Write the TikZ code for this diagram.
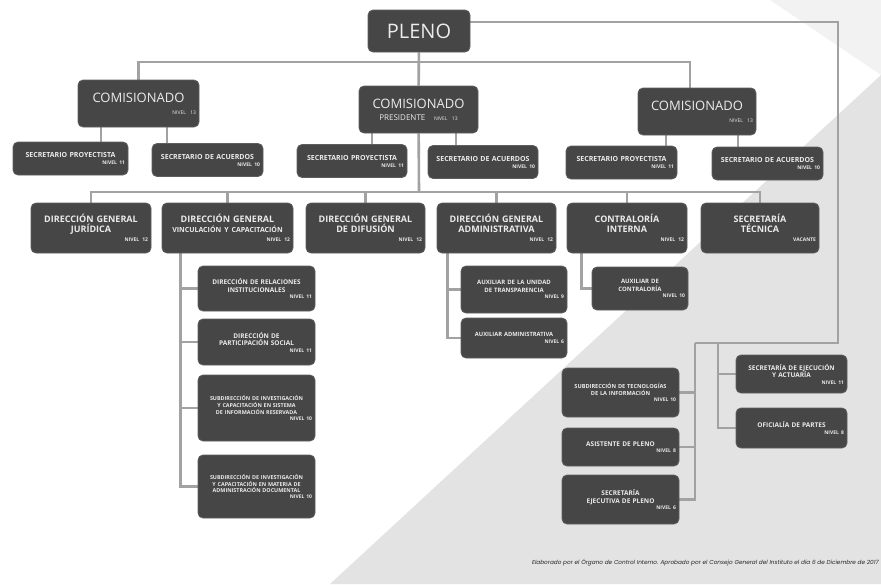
\documentclass[tikz,border=0pt]{standalone}
\usepackage{fontspec}
\usepackage{tikz}
\newfontfamily\cajafont{Open Sans}
\newfontfamily\piefont{Poppins}
\definecolor{Caja}{HTML}{464646}
\definecolor{Borde}{HTML}{5E5E5E}
\definecolor{Linea}{HTML}{A2A2A2}
\pgfdeclarelayer{fondo}
\pgfdeclarelayer{lineas_layer}
\pgfdeclarelayer{esquema}
\pgfsetlayers{fondo,lineas_layer,esquema,main}
\newcommand{\nivel}[1]{\\[-1pt]\mbox{}\hfill{\fontsize{5}{5}\selectfont #1}}
\tikzstyle{none}=[inner sep=0pt]
\tikzstyle{caja}=[fill=Caja,draw=Borde,line width=0.8pt,rounded corners=5pt,text=white!92!black,inner sep=3pt,align=center]
\tikzstyle{pleno}=[caja,minimum width=102pt,minimum height=42pt,font=\cajafont\fontsize{20}{20}\selectfont]
\tikzstyle{comisionado}=[caja,minimum height=47pt,font=\cajafont\fontsize{13}{13}\selectfont]
\tikzstyle{secretario}=[caja,minimum height=33pt,font=\cajafont\bfseries\fontsize{7}{8}\selectfont]
\tikzstyle{direccion}=[caja,minimum height=50pt,font=\cajafont\bfseries\fontsize{9}{10}\selectfont]
\tikzstyle{area}=[caja,font=\cajafont\bfseries\fontsize{6.5}{7.5}\selectfont]
\tikzstyle{pie}=[inner sep=0pt,anchor=east,text=black!85,font=\piefont\itshape\fontsize{5.75}{7}\selectfont]
\tikzstyle{linea}=[draw=Linea,line width=2.6pt]

\begin{document}
\begin{tikzpicture}[x=1pt,y=-1pt]
		\useasboundingbox (0,0) rectangle (881,584);
		\begin{pgfonlayer}{fondo}
			\fill [gray!10] (770,0) -- (881,0) -- (881,75) -- cycle;
			\fill [gray!22] (881,75) -- (881,584) -- (330,584) -- cycle;
		\end{pgfonlayer}
		\begin{pgfonlayer}{esquema}
			\node [style=pleno] (pleno) at (419,31) {PLENO};
			\node [style=comisionado, text width=115pt] (com_izq) at (138.5,103.5) {COMISIONADO\nivel{NIVEL 13}};
			\node [style=comisionado, text width=113pt] (com_pres) at (418.5,109.5) {COMISIONADO\\[-1pt]{\fontsize{8}{8}\selectfont PRESIDENTE}\ \ {\fontsize{5}{5}\selectfont NIVEL 13}};
			\node [style=comisionado, text width=112pt] (com_der) at (697,111.5) {COMISIONADO\nivel{NIVEL 13}};
			\node [style=secretario, text width=109pt] (sp_izq) at (70.5,158.5) {SECRETARIO PROYECTISTA\nivel{NIVEL 11}};
			\node [style=secretario, text width=105pt] (sa_izq) at (207.5,160) {SECRETARIO DE ACUERDOS\nivel{NIVEL 10}};
			\node [style=secretario, text width=104pt] (sp_pres) at (352,161) {SECRETARIO PROYECTISTA\nivel{NIVEL 11}};
			\node [style=secretario, text width=104pt] (sa_pres) at (483,162) {SECRETARIO DE ACUERDOS\nivel{NIVEL 10}};
			\node [style=secretario, text width=105pt] (sp_der) at (621.5,162.5) {SECRETARIO PROYECTISTA\nivel{NIVEL 11}};
			\node [style=secretario, text width=105pt] (sa_der) at (767.5,163.5) {SECRETARIO DE ACUERDOS\nivel{NIVEL 10}};
			\node [style=direccion, text width=114pt] (dg_juridica) at (91,228) {DIRECCIÓN GENERAL\\JURÍDICA\nivel{NIVEL 12}};
			\node [style=direccion, text width=125pt] (dg_vinculacion) at (227.5,228) {DIRECCIÓN GENERAL\\{\fontsize{7}{8}\selectfont VINCULACIÓN Y CAPACITACIÓN}\nivel{NIVEL 12}};
			\node [style=direccion, text width=113pt] (dg_difusion) at (365.5,228) {DIRECCIÓN GENERAL\\DE DIFUSIÓN\nivel{NIVEL 12}};
			\node [style=direccion, text width=113pt] (dg_admin) at (496.5,228) {DIRECCIÓN GENERAL\\ADMINISTRATIVA\nivel{NIVEL 12}};
			\node [style=direccion, text width=114pt] (contraloria) at (627,228) {CONTRALORÍA\\INTERNA\nivel{NIVEL 12}};
			\node [style=direccion, text width=112pt] (sec_tecnica) at (760,228) {SECRETARÍA\\TÉCNICA\nivel{VACANTE}};
			\node [style=area, text width=111pt, minimum height=45pt] (dir_relaciones) at (256.5,288.5) {DIRECCIÓN DE RELACIONES\\INSTITUCIONALES\nivel{NIVEL 11}};
			\node [style=area, text width=111pt, minimum height=46pt] (dir_participacion) at (256.5,342) {DIRECCIÓN DE\\PARTICIPACIÓN SOCIAL\nivel{NIVEL 11}};
			\node [style=area, text width=111pt, minimum height=66pt, font=\cajafont\bfseries\fontsize{5.4}{6.8}\selectfont] (sub_informacion) at (256.5,408) {SUBDIRECCIÓN DE INVESTIGACIÓN\\Y CAPACITACIÓN EN SISTEMA\\DE INFORMACIÓN RESERVADA\nivel{NIVEL 10}};
			\node [style=area, text width=111pt, minimum height=63pt, font=\cajafont\bfseries\fontsize{5.4}{6.8}\selectfont] (sub_documental) at (256.5,486.5) {SUBDIRECCIÓN DE INVESTIGACIÓN\\Y CAPACITACIÓN EN MATERIA DE\\ADMINISTRACIÓN DOCUMENTAL\nivel{NIVEL 10}};
			\node [style=area, text width=100pt, minimum height=47pt, font=\cajafont\bfseries\fontsize{6}{7.2}\selectfont] (aux_transparencia) at (514,289.5) {AUXILIAR DE LA UNIDAD\\DE TRANSPARENCIA\nivel{NIVEL 9}};
			\node [style=area, text width=100pt, minimum height=40pt, font=\cajafont\bfseries\fontsize{5.8}{7.2}\selectfont] (aux_administrativa) at (514,338) {AUXILIAR ADMINISTRATIVA\nivel{NIVEL 6}};
			\node [style=area, text width=90pt, minimum height=43pt, font=\cajafont\bfseries\fontsize{6}{7.2}\selectfont] (aux_contraloria) at (640,288.5) {AUXILIAR DE\\CONTRALORÍA\nivel{NIVEL 10}};
			\node [style=area, text width=111pt, minimum height=49pt, font=\cajafont\bfseries\fontsize{5.6}{7.2}\selectfont] (sub_tecnologias) at (620.5,392.5) {SUBDIRECCIÓN DE TECNOLOGÍAS\\DE LA INFORMACIÓN\nivel{NIVEL 10}};
			\node [style=area, text width=111pt, minimum height=38pt] (asistente) at (620.5,447) {ASISTENTE DE PLENO\nivel{NIVEL 8}};
			\node [style=area, text width=111pt, minimum height=49pt] (sec_ejecutiva) at (620.5,499.5) {SECRETARÍA\\EJECUTIVA DE PLENO\nivel{NIVEL 6}};
			\node [style=area, text width=105pt, minimum height=38pt] (sec_ejecucion) at (791.5,374) {SECRETARÍA DE EJECUCIÓN\\Y ACTUARÍA\nivel{NIVEL 11}};
			\node [style=area, text width=105pt, minimum height=40pt] (oficialia) at (791.5,428) {OFICIALÍA DE PARTES\nivel{NIVEL 8}};
			\node [style=pie] (pie) at (879,563) {Elaborado por el Órgano de Control Interno. Aprobado por el Consejo General del Instituto el día 6 de Diciembre de 2017};
		\end{pgfonlayer}
		\begin{pgfonlayer}{lineas_layer}
			\coordinate (bus_com) at (419,62);
			\coordinate (bus_dir) at (419,192);
			\coordinate (bus_der) at (838,343);
			\coordinate (tronco_a) at (695,343);
			\coordinate (tronco_b) at (718,343);
			\path [style=linea] (pleno) -- (com_pres);
			\path [style=linea] (bus_com) -| (com_izq);
			\path [style=linea] (bus_com) -| ([xshift=-7pt]com_der.north);
			\path [style=linea] ([xshift=-37.5pt]com_izq.south) -- ([xshift=-37.5pt]com_izq.south |- sp_izq.north);
			\path [style=linea] ([xshift=28.5pt]com_izq.south) -- ([xshift=28.5pt]com_izq.south |- sa_izq.north);
			\path [style=linea] ([xshift=-46.5pt]com_pres.south) -- ([xshift=-46.5pt]com_pres.south |- sp_pres.north);
			\path [style=linea] ([xshift=37.5pt]com_pres.south) -- ([xshift=37.5pt]com_pres.south |- sa_pres.north);
			\path [style=linea] ([xshift=-31pt]com_der.south) -- ([xshift=-31pt]com_der.south |- sp_der.north);
			\path [style=linea] ([xshift=41pt]com_der.south) -- ([xshift=41pt]com_der.south |- sa_der.north);
			\path [style=linea] (com_pres) -- (bus_dir);
			\path [style=linea] (bus_dir) -| (dg_juridica);
			\path [style=linea] (bus_dir) -| (dg_vinculacion);
			\path [style=linea] (bus_dir) -| (dg_difusion);
			\path [style=linea] (bus_dir) -| (dg_admin);
			\path [style=linea] (bus_dir) -| (contraloria);
			\path [style=linea] (bus_dir) -| (sec_tecnica);
			\path [style=linea] ([xshift=19pt]dg_vinculacion.south west) |- (dir_relaciones);
			\path [style=linea] ([xshift=19pt]dg_vinculacion.south west) |- (dir_participacion);
			\path [style=linea] ([xshift=19pt]dg_vinculacion.south west) |- (sub_informacion);
			\path [style=linea] ([xshift=19pt]dg_vinculacion.south west) |- (sub_documental);
			\path [style=linea] ([xshift=11pt]dg_admin.south west) |- (aux_transparencia);
			\path [style=linea] ([xshift=11pt]dg_admin.south west) |- (aux_administrativa);
			\path [style=linea] ([xshift=15pt]contraloria.south west) |- (aux_contraloria);
			\path [style=linea] ([yshift=9pt]pleno.east) -| (bus_der) -- (tronco_a);
			\path [style=linea] (tronco_a) |- (sub_tecnologias);
			\path [style=linea] (tronco_a) |- (asistente);
			\path [style=linea] (tronco_a) |- (sec_ejecutiva);
			\path [style=linea] (tronco_b) |- (sec_ejecucion);
			\path [style=linea] (tronco_b) |- (oficialia);
		\end{pgfonlayer}
\end{tikzpicture}
\end{document}
